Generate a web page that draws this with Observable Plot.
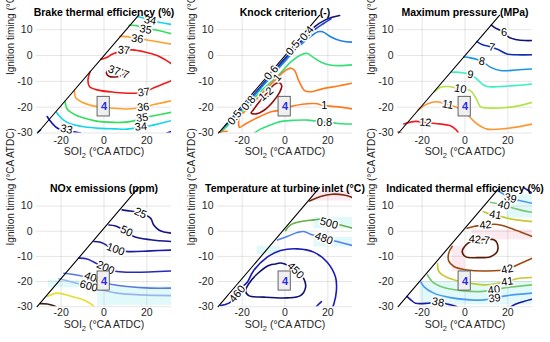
<!DOCTYPE html>
<html><head><meta charset="utf-8">
<script src="https://cdn.jsdelivr.net/npm/d3@7"></script>
<script src="https://cdn.jsdelivr.net/npm/@observablehq/plot@0.6"></script>
<style>
body{margin:0;background:#fff}
#fig{position:relative;width:550px;height:342px;overflow:hidden;background:#fff}
#fig svg{position:absolute;overflow:visible}
</style></head><body><div id="fig"></div>
<script>
// ---------- shared axis data ----------
const xTicks = [-20, 0, 20];
const yTicks = [-30, -20, -10, 0, 10];
const xLabel = "SOI₂ (°CA ATDC)";
const yLabel = "Ignition timing (°CA ATDC)";
const boxLabel = "4";
const box = [{x1: -3, x2: 2.7, y1: -16, y2: -23.6}];
const diagRow1 = [[-31, -30], [16.2, 15.6]];
const diagRow2 = [[-31.2, -30], [16.1, 17.3]];

// ---------- Brake thermal efficiency ----------
const bteTitle = "Brake thermal efficiency (%)";
const bteLevels = [33, 34, 35, 36, 37, 37.7];
const bteColors = ["#1414b4", "#12d6e8", "#2ee05a", "#ffa02a", "#f01a1a", "#8c0a0a"];
const bteLines = [
  [33, [[-26.5,-23.6],[-25.8,-24.6],[-22.6,-27.6],[-20.5,-28.6],[-17,-29.3],[-13.3,-29.6],[-11,-30]]],
  [33, [[-31,-29.8],[-29.6,-28.8]]],
  [33, [[29.3,-30],[31.5,-29.4]]],
  [34, [[15.6,15],[18,14.6],[21.5,13.6],[25.7,12.9],[31.5,12]]],
  [34, [[-22.2,-22],[-20,-24.2],[-17.2,-25.9],[-13,-27],[-9.4,-27.6],[-1.6,-28.2],[5,-28.4],[10.8,-28.5],[17,-27.8],[21.7,-27.2],[26,-26.3],[31.5,-25.2]]],
  [35, [[11.7,11.7],[14.7,11.6],[19.4,10.4],[24.8,9.8],[31.5,8.4]]],
  [35, [[-18.2,-17.8],[-17.2,-20.7],[-15,-22.2],[-12.5,-23.3],[-8,-24.5],[-4.7,-25.2],[4.6,-25.9],[10,-25.8],[13.9,-25.3],[17.8,-24.2],[23.3,-23.3],[31.5,-22]]],
  [36, [[7.4,7.4],[10.8,7.3],[15.5,6.5],[19.4,6.1],[25,5.3],[31.5,4.4]]],
  [36, [[-13.8,-13.6],[-13.3,-16.2],[-10.2,-18.1],[-6,-19.3],[-3.2,-19.8],[3,-20.3],[10.8,-20.7],[18.3,-20],[23.3,-19],[31.5,-17.5]]],
  [37, [[-1.5,-1.5],[1,-0.9],[4,0.6],[9.3,2],[13.2,2.2],[19,1.4],[24.8,0],[28.5,-1.6],[31.5,-3.2]]],
  [37, [[-6.5,-6.3],[-7.5,-9.7],[-6.8,-12],[-3.2,-13.3],[4.6,-14.2],[13.9,-14.6],[18.6,-14.2],[23.3,-12.5],[27,-11.2],[31.5,-9.7]]],
  [37.7, [[4,-5],[1.8,-5.6],[1.2,-7],[2.5,-8.1],[5,-8.3],[8,-7.8],[10,-6.8],[9,-5.6],[6.5,-5],[4,-5]]]
];
const bteLabels = [
  ["34",21.5,13.6,10],["35",19.4,10.1,10],["36",15.5,6.5,8],["37",9.3,2,5],["37.7",6.8,-6.4,20],
  ["37",18.6,-14.2,-8],["36",18.3,-20,-6],["35",17.8,-24.1,-6],["34",17.2,-27.6,-5],["33",-17.5,-28.6,12]
];

// ---------- Knock criterion ----------
const kiTitle = "Knock criterion (-)";
const kiLevels = [0.4, 0.5, 0.6, 0.8, 1, 1.2];
const kiColors = ["#14147a", "#1f3fd0", "#1a86e0", "#33e07a", "#ff7a1f", "#960a0a"];
const kiLines = [
  [0.4, [[-30.8,-30],[-20,-20.3],[-10,-10.7],[0,-1.1],[9,6.9],[13.9,11.2],[18.4,13.6],[22,14.8],[25.5,15.5]]],
  [0.5, [[-30.6,-30],[-20,-20.6],[-10,-11.1],[0,-1.6],[9,6.3],[14,10.1],[18,12.4],[21.5,14.2]]],
  [0.6, [[-30.4,-30],[-20,-21],[-10,-11.4],[0,-2.2],[3,0.6],[10.7,6.5],[15.4,9.2],[17.5,9.2],[21.7,7.1],[26.4,5.6],[31.5,5.2]]],
  [0.8, [[-30,-29.7],[-20,-21.6],[-11.1,-13.7],[-3.3,-7.8],[2.9,-2.4],[7.6,0.3],[10.5,0.8],[13,-0.6],[16.9,-2.6],[21,-3.7],[26,-3.9],[31.5,-3.6]]],
  [0.8, [[-14.2,-30],[-11.5,-28.5],[-9.4,-27.8],[-5,-26.3],[-1.6,-25.5],[4,-25.1],[10.8,-25],[18.4,-25.8],[24.8,-26.3],[31.5,-26.5]]],
  [1, [[31.5,-10.7],[24.8,-11.8],[17,-13],[12.5,-14],[9.3,-13.7],[6.3,-9.5],[4.5,-5.8],[2.9,-4.9],[0.5,-5.6],[-4.9,-9.7],[-10,-14],[-14.5,-18],[-18.5,-21.5],[-21.2,-23.5],[-21.2,-27.8],[-18.5,-26.5],[-12.5,-23.9],[-6,-21.7],[-1,-21],[3,-19.7],[13.9,-18.6],[18.4,-19.4],[24.8,-19.9],[31.5,-20.7]]],
  [1, [[-31,-29.6],[-27,-29.3]]],
  [1.2, [[-15,-21.3],[-12.3,-18.3],[-8.8,-14.9],[-4.9,-11.2],[-2.6,-10.5],[-1.5,-11.8],[-2.6,-14.4],[-5.7,-18],[-9.6,-21.1],[-13.5,-22.6],[-15.8,-22.2],[-15,-21.3]]]
];
const kiLabels = [
  ["0.4",10.2,8.6,-50],["0.5",3.7,3.0,-50],["0.6",-6.4,-6.6,-50],["1",-3.6,-8.6,-50],["1.2",-8.8,-14.9,-40],
  ["0.8",-17,-18.4,-50],["0.5",-23.5,-24,-50],["1",18.4,-19.4,0],["0.8",18.4,-25.9,0]
];

// ---------- Maximum pressure ----------
const mpTitle = "Maximum pressure (MPa)";
const mpLevels = [6, 7, 8, 9, 10, 11, 12];
const mpColors = ["#12127a", "#1232b4", "#1a96e0", "#36f0c4", "#b0e444", "#ff9430", "#f02020"];
const mpLines = [
  [6, [[12.3,11.8],[14.5,10.5],[18.2,9.1],[20.4,7.1],[24.3,6.1],[28,5.8],[31.5,5.8]]],
  [7, [[5.6,5.4],[7.9,4.3],[12.6,3.2],[15.7,2.2],[19.6,0.6],[24,0.3],[31.5,0.3]]],
  [8, [[-0.6,-0.6],[2.5,-0.9],[7.9,-2.2],[11.8,-4.5],[16.5,-5.8],[24,-5.6],[31.5,-5.2]]],
  [9, [[-6.6,-6.5],[-2.9,-6.5],[2.5,-7.4],[5.6,-9.1],[8,-11],[10.3,-12],[16.5,-12],[24,-11.6],[31.5,-11]]],
  [10, [[-14.2,-14],[-11.5,-12.3],[-7.6,-12],[-2.2,-12.9],[2.5,-13.6],[5.3,-16.8],[7.2,-19.8],[10.3,-20.3],[19.6,-20.1],[26,-19.3],[31.5,-18.1]]],
  [11, [[-21.8,-21],[-17.7,-18.8],[-13.1,-17.9],[-8.1,-19],[-3,-20.3],[0,-21.5],[1.7,-23.3],[5.6,-26.5],[10.3,-28.5],[19.6,-28.2],[31.5,-26.5]]],
  [12, [[-28.6,-26.5],[-27.8,-26.3],[-23.2,-25.5],[-18.5,-25.9],[-13.8,-26.3],[-6.8,-27.2],[-4.5,-28.5],[-3,-30]]],
  [12, [[-31.3,-29.6],[-29.6,-30]]]
];
const mpLabels = [
  ["6",18.2,9,0],["7",12.6,3.2,10],["8",7.9,-2.2,10],["9",2.5,-7.4,10],["10",-2.2,-12.9,10],["11",-8.1,-19,10],["12",-18.5,-25.9,5]
];

// ---------- NOx emissions ----------
const noxTitle = "NOx emissions (ppm)";
const noxLevels = [25, 50, 100, 200, 400, 600, 1000, 2000];
const noxColors = ["#151580", "#16168e", "#1a1aa2", "#2828bc", "#5a78e0", "#98b6ee", "#e6e034", "#3c2210"];
const noxLines = [
  [25, [[8.5,8.5],[10.8,8.2],[17,7.2],[21.7,5.2],[23.2,2.5],[25.6,0.5],[28,-0.3],[31.5,-0.8]]],
  [50, [[2.3,2.5],[5.4,2.1],[10.5,-0.1],[13.9,-2.1],[21.7,-3.4],[31.5,-4.1]]],
  [100, [[-4.7,-4.1],[-1.6,-4.4],[5.4,-7.4],[11.6,-8.1],[21.7,-7.8],[31.5,-7.5]]],
  [200, [[-11.7,-10.7],[-7.9,-11],[0.7,-14.7],[6.1,-16],[13.9,-16.3],[31.5,-15.8]]],
  [400, [[-18.7,-16.7],[-14.9,-17.1],[-6.3,-18.7],[-3,-20],[3,-21.1],[10.8,-22],[21.7,-22.6],[31.5,-22.6]]],
  [600, [[-21.1,-18.9],[-17.2,-19.7],[-7.1,-22],[-1.6,-23.3],[6.1,-24.6],[17,-25.3],[31.5,-25.6]]],
  [1000, [[-26.5,-26],[-21.9,-24.6],[-14.9,-26],[-9.4,-27.3],[-5.5,-29.3],[-4.7,-30]]],
  [2000, [[-29.8,-28.8],[-26.5,-28.9],[-23.4,-29.6],[-22.5,-30]]]
];
const noxLabels = [
  ["25",17,7.2,25],["50",10.5,0,25],["100",5.4,-7.2,20],["200",0.7,-14.5,25],["400",-5,-18.6,20],["600",-7.1,-21.8,15]
];
const noxShade = [[-26,-3,-19.5,-22.5,"c"],[-3,31.5,-22,-29.5,"c"]];

// ---------- Temperature at turbine inlet ----------
const ttTitle = "Temperature at turbine inlet (°C)";
const ttLevels = [450, 460, 480, 500, 520];
const ttColors = ["#10106e", "#1a1ab8", "#5082f0", "#62b044", "#7a2a10"];
const ttLines = [
  [520, [[11.5,12],[16.6,13.8],[22,14.7],[27.5,14.4],[31.5,13.4]]],
  [500, [[0.3,0.3],[2.6,2.5],[7.2,3.8],[13.5,4.5],[17.3,4.8],[20.5,3.2],[25.9,2.5],[31.5,1.2]]],
  [480, [[-3.5,-3.5],[1,-2.1],[5.7,-0.5],[8.8,-0.1],[11.9,-1.2],[18.1,-2.8],[24.3,-4.1],[31.5,-5.7]]],
  [460, [[-30.1,-29.5],[-26.2,-28.6],[-22.3,-24.9],[-19.2,-21.6],[-17.6,-20.3],[-14.6,-15.6],[-8.3,-10.3],[-2.1,-7.7],[5.7,-7],[13.4,-8.3],[19.7,-12.3],[23.6,-18.3],[24,-23.6],[22.8,-28.9],[22.3,-30]]],
  [460, [[14.6,-30],[16,-28.8],[17,-28]]],
  [450, [[-4.4,-13],[-1.3,-12.7],[4.9,-15.6],[8.8,-18.9],[9.6,-22.3],[7.2,-25.6],[1,-26.5],[-9.9,-26.2],[-16.9,-25.6],[-18.4,-23.6],[-16.9,-20.9],[-13,-17],[-7.6,-13.6],[-4.4,-13]]]
];
const ttLabels = [
  ["500",20.5,3.2,15],["480",18.1,-2.8,20],["450",4.9,-15.6,45],["460",-22.3,-24.9,-50]
];
const ttShade = [[-13,-2,-6,-9.4,"c"],[13.5,31.5,5.5,1,"c"],[13.5,31.5,-2.5,-6.3,"c"],[12,31.5,16,12,"p"]];

// ---------- Indicated thermal efficiency ----------
const iteTitle = "Indicated thermal efficiency (%)";
const iteLevels = [38, 39, 40, 41, 42, 42.7];
const iteColors = ["#1a1aa0", "#4a9af0", "#78c870", "#c8c830", "#9a4a12", "#5a1a08"];
const iteLines = [
  [38, [[27.5,17.3],[29,16.5],[31.5,15.1]]],
  [39, [[14.8,16.3],[17.5,15],[21.2,13.1],[25.9,12.1],[31.5,11.1]]],
  [40, [[11.9,11.5],[13.5,11.2],[18.1,10.5],[22.8,9.1],[27,8.2],[31.5,7.5]]],
  [41, [[8.5,7.8],[10,7.3],[14.2,6.5],[19.7,5.2],[25,4.4],[31.5,3.8]]],
  [42, [[1,1.2],[4.1,1.9],[9.6,2.5],[13.5,2.8],[17,2.4],[21.3,1.2],[27.5,-0.8],[31.5,-2.1]]],
  [42.7, [[5.7,-3.6],[9.5,-3.2],[13.5,-3.4],[15,-4.8],[15,-8.1],[11.9,-10.1],[5.7,-10.5],[0.2,-10.1],[-1.3,-8.1],[0.2,-5.7],[2.5,-4.2],[5.7,-3.6]]],
  [42, [[-6,-6],[-7.6,-8.7],[-7.6,-11.8],[-5.2,-14],[1,-15.4],[10.3,-15.8],[19.7,-15.1],[24.3,-13.4],[31.5,-10.7]]],
  [41, [[-12.8,-12.8],[-12.2,-16],[-8.3,-18.4],[-4,-19.6],[2.6,-20.7],[10.3,-21.3],[19.7,-20],[24.3,-18.9],[31.5,-18.4]]],
  [40, [[-17.5,-17.4],[-15.3,-20],[-9.9,-22.4],[-2.1,-23.6],[7.2,-24],[13.5,-23.3],[19.7,-22.4],[31.5,-21.3]]],
  [39, [[-20.5,-20.3],[-19.2,-22],[-14.6,-24.6],[-6.8,-26.4],[2.6,-27.3],[8.8,-27.3],[13.8,-26.6],[19.7,-25.6],[31.5,-24.6]]],
  [38, [[-27,-26],[-25,-27.5],[-23.1,-28.6],[-17,-28.6],[-12.6,-28.2],[-8,-29],[-5.5,-29.5],[-3.7,-30]]],
  [38, [[21.5,-30],[23.5,-29],[27,-28],[31.5,-27]]]
];
const iteLabels = [
  ["39",21.2,13.1,15],["40",18.1,10.4,12],["41",14.2,6.5,10],["42",9.6,2.5,-5],["42.7",6.7,-3.4,5],
  ["42",19.7,-15.1,-12],["41",19.7,-20,-8],["40",13.5,-23.3,-8],["39",13.8,-26.6,-8],["38",-12.6,-28.2,10]
];
const iteShade = [[3.3,31.5,0.5,-3.4,"p"],[-6,0,-6,-16,"p"],[19.6,31.5,14.4,5.2,"c"],[-21,31.5,-20,-29.3,"c"]];

// ---------- layout ----------
const FONT = "'Liberation Sans', Arial, Helvetica, sans-serif";
const ROWS = [
  {top: 0,   mt: 13.7, mb: 38.5, ymax: 16,   titleDy: -5.2, xlabDy: 22.4, tickPad: 4, ylabDy: 1.5, diag: diagRow1},
  {top: 171, mt: 15.7, mb: 35.8, ymax: 17.5, titleDy: -2.2, xlabDy: 20.8, tickPad: 2, ylabDy: -1.5, diag: diagRow2}
];
const COLS = [0, 180.5, 361];
const shadeFill = {c: "#e2f9fa", p: "#fdeaf1"};

// render "SOI₂" with a real subscript in the same font
function subscriptLabel(svg) {
  const ns = "http://www.w3.org/2000/svg";
  svg.querySelectorAll("text").forEach(t => {
    if (t.textContent === xLabel) {
      t.textContent = "";
      const a = document.createElementNS(ns, "tspan"); a.textContent = "SOI";
      const b = document.createElementNS(ns, "tspan"); b.textContent = "2";
      b.setAttribute("font-size", "7.5"); b.setAttribute("dy", "3");
      const c = document.createElementNS(ns, "tspan"); c.textContent = " (°CA ATDC)"; c.setAttribute("dy", "-3");
      t.append(a, b, c);
    }
  });
}

function panel(row, col, title, levels, colors, lines, labels, shade) {
  const R = ROWS[row];
  const flat = [];
  lines.forEach(([level, pts], i) => pts.forEach(([x, y]) => flat.push({id: i, level, x, y})));
  const lab = labels.map(([t, x, y, r]) => ({t, x, y, r}));
  const sh = (shade || []).map(([x1, x2, y1, y2, k]) => ({x1, x2, y1, y2, k}));
  const dg = R.diag.map(([x, y]) => ({x, y}));
  const svg = Plot.plot({
    width: 181, height: 171,
    marginLeft: 36, marginRight: 10, marginTop: R.mt, marginBottom: R.mb,
    x: {domain: [-31.5, 31.5]},
    y: {domain: [-30, R.ymax]},
    color: {type: "ordinal", domain: levels, range: colors},
    style: {fontFamily: FONT, fontSize: "10.5px", background: "transparent", overflow: "visible"},
    marks: [
      Plot.rect(sh, {x1: "x1", x2: "x2", y1: "y1", y2: "y2", fill: d => shadeFill[d.k]}),
      Plot.gridX(xTicks, {stroke: "#262626", strokeOpacity: 0.12}),
      Plot.gridY(yTicks, {stroke: "#262626", strokeOpacity: 0.12}),
      Plot.axisX(xTicks, {label: null, tickSize: 0, tickPadding: R.tickPad, color: "#262626", fontSize: 10.5, tickFormat: d => String(d)}),
      Plot.axisY(yTicks, {label: null, tickSize: 0, tickPadding: 4, color: "#262626", fontSize: 10.5, tickFormat: d => String(d)}),
      Plot.line(flat, {x: "x", y: "y", z: "id", stroke: "level", strokeWidth: 1.6, curve: "catmull-rom", clip: true}),
      Plot.line(dg, {x: "x", y: "y", stroke: "#000", strokeWidth: 1.1}),
      Plot.text(lab, {x: "x", y: "y", text: "t", rotate: "r", fill: "#000", stroke: "#fff", strokeWidth: 3, fontSize: 11}),
      Plot.rect(box, {x1: "x1", x2: "x2", y1: "y1", y2: "y2", fill: "#efefef", stroke: "#555", strokeWidth: 0.9}),
      Plot.text([boxLabel], {x: 0, y: -19.8, text: d => d, fill: "#2a2ae6", fontWeight: "bold", fontSize: 11}),
      Plot.text([title], {frameAnchor: "top", dy: R.titleDy, text: d => d, fontWeight: "bold", fontSize: 10.5, fill: "#000"}),
      Plot.text([xLabel], {frameAnchor: "bottom", dy: R.xlabDy, text: d => d, fontSize: 10.5, fill: "#262626"}),
      Plot.text([yLabel], {frameAnchor: "left", dx: -26, dy: R.ylabDy, rotate: -90, text: d => d, fontSize: 10, fill: "#262626"})
    ]
  });
  subscriptLabel(svg);
  svg.style.left = COLS[col] + "px";
  svg.style.top = R.top + "px";
  document.getElementById("fig").appendChild(svg);
}

panel(0, 0, bteTitle, bteLevels, bteColors, bteLines, bteLabels, null);
panel(0, 1, kiTitle, kiLevels, kiColors, kiLines, kiLabels, null);
panel(0, 2, mpTitle, mpLevels, mpColors, mpLines, mpLabels, null);
panel(1, 0, noxTitle, noxLevels, noxColors, noxLines, noxLabels, noxShade);
panel(1, 1, ttTitle, ttLevels, ttColors, ttLines, ttLabels, ttShade);
panel(1, 2, iteTitle, iteLevels, iteColors, iteLines, iteLabels, iteShade);
</script></body></html>
